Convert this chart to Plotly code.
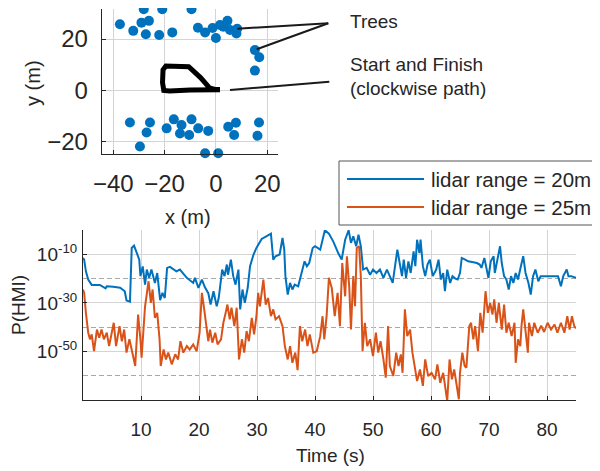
import plotly.graph_objects as go

# ---------------- data ----------------
tree_x = [-28.1, -20.9, -9.5, -37.4, -32.2, -29.0, -26.1, -27.3, -22.1, -17.0, -7.0, -4.2, -1.3, 0.0,
          1.6, 2.9, 4.5, 5.5, 8.3, 8.0, 15.2, 16.9, 15.2,
          -33.5, -25.7, -27.0, -29.6, -19.2, -16.4, -13.4, -14.0, -9.5, -10.4, -6.9, -3.0, -4.2, 0.9,
          4.8, 7.8, 7.1, 16.8, 16.2]
tree_y = [31.6, 31.6, 31.6, 25.8, 23.2, 26.4, 27.1, 21.9, 21.6, 22.6, 24.4, 22.6, 24.3, 20.4,
          25.5, 24.8, 27.1, 23.5, 24.0, 22.2, 15.7, 12.9, 7.7,
          -12.5, -12.5, -16.4, -21.9, -14.8, -11.3, -13.5, -16.8, -11.3, -17.4, -14.8, -15.8, -24.5, -24.5,
          -14.2, -12.6, -17.4, -12.5, -17.7]

path_x = [1.6, -2.0, -10.0, -18.0, -20.3, -20.8, -20.6, -19.5, -15.0, -10.6, -6.0, -2.5, 0.0, 1.5]
path_y = [0.2, 0.3, 0.1, -0.2, 0.0, 3.0, 8.0, 9.5, 9.4, 9.2, 5.0, 1.0, 0.3, 0.3]

# lidar range = 20 m : time (s) and log10 P(HMI)
t20 = [0.0, 0.2, 0.5, 0.9, 1.5, 2.9, 3.9, 4.1, 5.2, 6.4, 7.2, 7.5, 8.1, 8.4, 8.8, 9.3, 9.7, 9.9,
       10.3, 10.7, 11.0, 11.4, 11.8, 12.4, 12.8, 13.3, 13.7, 14.1, 14.5, 15.0, 16.1, 16.7, 17.9,
       19.0, 19.3, 19.9, 20.5, 21.0, 21.6, 22.0, 22.5, 23.05, 23.4, 24.0, 24.4, 24.8, 25.0, 25.5,
       25.9, 26.3, 26.8, 27.1, 27.5, 27.9, 28.4, 28.8, 29.4, 29.9, 30.8, 31.6, 32.4, 32.8, 33.2,
       33.9, 34.4, 34.7, 34.9, 35.3, 35.7, 36.1, 36.5, 37.1, 37.7, 38.2, 38.6, 39.0, 39.6, 40.0,
       40.9, 41.7, 42.4, 43.2, 44.0, 44.6, 45.2, 45.8, 46.2, 46.6, 47.1, 47.5, 47.9, 48.3, 48.9,
       49.5, 50.0, 50.6, 51.2, 51.8, 52.4, 52.9, 53.4, 53.8, 54.2, 54.6, 55.0, 55.3, 55.7, 56.1,
       56.5, 57.0, 57.3, 57.6, 58.0, 58.2, 58.6, 59.0, 59.4, 59.8, 60.3, 60.9, 61.3, 61.7, 62.1,
       62.4, 62.8, 63.3, 63.7, 64.2, 64.6, 65.0, 65.3, 65.9, 66.4, 67.3, 67.9, 68.4, 68.7, 69.2,
       69.6, 69.9, 70.3, 70.8, 71.0, 71.5, 71.9, 72.2, 72.6, 73.0, 73.4, 73.8, 74.2, 74.6, 75.0,
       75.5, 75.9, 76.3, 76.8, 77.2, 77.6, 78.0, 78.5, 78.9, 80.2, 81.9, 82.4, 82.8, 83.4, 83.7,
       84.2, 85.0]
log_p20 = [-11.5, -12.2, -17.0, -20.4, -22.6, -22.6, -24.0, -23.2, -23.4, -23.8, -25.2, -29.0, -29.5,
           -7.4, -6.4, -10.1, -12.2, -19.0, -15.0, -22.5, -16.3, -19.7, -16.3, -21.8, -17.7, -28.9,
           -25.9, -28.0, -15.6, -15.2, -17.0, -16.3, -19.7, -21.8, -19.7, -23.8, -20.4, -23.5, -26.0,
           -30.7, -25.2, -31.4, -28.0, -16.3, -19.0, -14.2, -18.4, -12.2, -19.0, -22.5, -16.3, -32.7,
           -24.5, -30.0, -23.8, -14.9, -10.1, -7.4, -3.7, -2.6, -1.5, -12.2, -10.8, -10.1, -3.3, -8.1,
           -19.0, -26.6, -21.8, -24.5, -22.5, -23.2, -17.7, -12.9, -14.9, -13.6, -7.4, -6.7, -8.1,
           -0.1, -1.5, -5.0, -9.5, -12.2, -4.0, -0.1, -5.3, -2.6, -6.7, -1.9, -6.7, -16.3, -15.6,
           -18.4, -16.3, -17.7, -16.3, -19.7, -16.3, -19.0, -21.8, -14.9, -8.1, -13.6, -19.0, -12.2,
           -19.7, -12.9, -17.7, -8.8, -14.9, -4.0, -9.5, -4.0, -14.9, -19.0, -14.2, -12.2, -19.0,
           -16.3, -12.2, -20.4, -17.7, -25.2, -16.3, -21.8, -19.0, -20.0, -20.4, -17.7, -11.5, -12.2,
           -12.9, -13.3, -13.6, -14.2, -15.6, -11.5, -16.3, -19.7, -12.9, -10.8, -17.7, -12.2, -6.7,
           -13.6, -19.0, -20.4, -24.5, -19.0, -21.8, -17.7, -20.4, -14.9, -10.8, -17.7, -21.8, -26.6,
           -19.0, -16.3, -21.1, -19.0, -19.0, -19.0, -23.2, -19.0, -16.3, -19.0, -19.0, -19.7]

# lidar range = 25 m : time (s) and log10 P(HMI)
t25 = [0.0, 0.2, 0.5, 0.9, 1.2, 1.5, 1.9, 2.4, 2.8, 3.2, 3.6, 4.1, 4.5, 4.9, 5.3, 5.7, 6.3, 6.7, 7.1,
       7.5, 8.0, 8.7, 9.0, 9.3, 9.5, 9.9, 10.1, 10.7, 11.3, 11.7, 12.0, 12.4, 12.8, 13.2, 13.4, 13.9,
       14.3, 14.7, 15.3, 15.9, 16.4, 16.8, 17.3, 17.9, 18.4, 19.0, 19.6, 20.1, 20.5, 20.9, 21.3,
       21.6, 21.9, 22.3, 22.8, 23.2, 23.8, 24.2, 24.6, 24.9, 25.3, 25.6, 26.1, 26.5, 26.9, 27.4,
       27.8, 28.2, 28.6, 29.1, 29.5, 29.9, 30.2, 30.5, 31.1, 31.5, 31.9, 32.4, 32.8, 33.2, 33.8,
       34.4, 34.8, 35.3, 35.7, 36.1, 36.6, 37.0, 37.4, 37.8, 38.3, 38.7, 39.1, 39.7, 40.3, 40.9,
       41.3, 41.6, 42.0, 42.4, 42.9, 43.4, 43.9, 44.3, 44.7, 45.2, 45.5, 45.9, 46.2, 46.6, 46.9,
       47.2, 47.6, 47.9, 48.2, 48.6, 49.0, 49.5, 50.0, 50.5, 50.9, 51.3, 51.8, 52.2, 52.6, 52.9,
       53.5, 54.0, 54.4, 54.8, 55.1, 55.5, 55.9, 56.4, 56.8, 57.2, 57.6, 58.1, 58.6, 59.0, 59.5,
       60.1, 60.7, 61.1, 61.6, 62.1, 62.5, 62.8, 63.2, 63.6, 64.0, 64.4, 64.8, 65.0, 65.4, 65.8,
       66.1, 66.6, 66.9, 67.3, 67.6, 68.1, 68.5, 68.9, 69.2, 69.4, 69.8, 70.2, 70.6, 70.9, 71.3,
       71.7, 72.2, 72.6, 73.0, 73.4, 73.9, 74.4, 74.6, 75.0, 75.4, 75.6, 75.9, 76.3, 76.7, 76.9,
       77.4, 77.8, 78.4, 79.0, 79.5, 80.1, 80.7, 81.3, 81.8, 82.4, 83.0, 83.5, 83.9, 84.3, 84.7,
       85.0]
log_p25 = [-24.5, -25.9, -34.1, -42.3, -45.0, -43.0, -49.9, -41.0, -44.4, -41.0, -45.0, -42.3, -47.8,
           -42.3, -38.2, -47.8, -39.6, -45.8, -41.0, -50.5, -45.0, -52.6, -56.0, -43.7, -34.8, -45.0,
           -52.6, -31.4, -21.1, -30.0, -24.5, -36.2, -34.1, -45.0, -56.0, -49.2, -53.3, -50.5, -55.3,
           -51.2, -53.3, -45.8, -50.5, -47.8, -49.2, -47.1, -49.9, -42.3, -25.9, -32.7, -41.0, -45.8,
           -41.0, -46.4, -42.3, -47.1, -45.0, -38.2, -34.1, -30.7, -36.8, -32.0, -39.6, -32.0, -53.3,
           -45.0, -50.5, -41.6, -45.8, -36.2, -43.0, -35.5, -25.9, -31.4, -20.4, -30.7, -28.0, -35.5,
           -32.7, -36.8, -35.5, -39.6, -47.8, -53.3, -47.8, -54.7, -50.5, -57.7, -39.6, -45.8, -41.0,
           -47.8, -43.0, -50.5, -49.9, -43.7, -35.5, -45.0, -35.5, -19.7, -24.0, -35.5, -25.9, -39.6,
           -13.6, -27.3, -10.8, -23.2, -41.0, -19.0, -31.4, -7.4, -6.7, -19.0, -49.9, -38.2, -47.8,
           -45.0, -51.9, -42.3, -50.5, -45.8, -53.3, -60.8, -39.6, -56.0, -60.1, -50.5, -56.0, -51.2,
           -58.8, -32.7, -43.7, -41.0, -50.5, -56.0, -62.2, -57.4, -64.2, -53.3, -60.1, -58.8, -61.5,
           -55.3, -62.9, -58.8, -65.6, -70.5, -53.3, -61.5, -57.4, -64.2, -69.7, -58.8, -50.5, -56.0,
           -56.7, -39.6, -38.2, -45.0, -39.6, -49.9, -34.1, -42.3, -31.4, -25.2, -34.1, -30.0, -34.8,
           -28.6, -38.2, -30.0, -41.0, -30.7, -42.3, -38.2, -43.7, -38.2, -54.7, -45.0, -47.8, -39.6,
           -32.7, -42.3, -50.5, -38.2, -43.7, -38.2, -42.3, -39.4, -42.0, -38.2, -41.0, -38.9, -42.3,
           -38.2, -42.3, -35.5, -41.0, -35.5, -39.6, -40.5]

x_ticks_map = [-40, -20, 0, 20]
y_ticks_map = [-20, 0, 20]
time_ticks = [10, 20, 30, 40, 50, 60, 70, 80]
p_tick_exps = [-50, -30, -10]
p_minor_exps = [-70, -60, -40, -20]
legend_labels = ["lidar range = 20m", "lidar range = 25m"]

# ---------------- styling ----------------
# the page body has an 8px margin, so the figure is 592x463 and offset by 8px
OFF = 8
W, H = 600 - OFF, 471 - OFF
BLUE = '#0072BD'
ORANGE = '#D95319'
AX = '#262626'
GRID = '#d4d4d4'
FONT = 'Liberation Sans, Arial, Helvetica, sans-serif'


def px(x):
    return (x - OFF) / W


def py(y):
    return 1 - (y - OFF) / H


fig = go.Figure()
fig.add_trace(go.Scatter(x=tree_x, y=tree_y, mode='markers', cliponaxis=False,
                         marker=dict(size=10, color=BLUE, line=dict(width=0)),
                         xaxis='x', yaxis='y', showlegend=False))
fig.add_trace(go.Scatter(x=path_x, y=path_y, mode='lines',
                         line=dict(color='black', width=5),
                         xaxis='x', yaxis='y', showlegend=False))
fig.add_trace(go.Scatter(x=t20, y=[10.0 ** v for v in log_p20], mode='lines',
                         line=dict(color=BLUE, width=2),
                         xaxis='x2', yaxis='y2', showlegend=False))
fig.add_trace(go.Scatter(x=t25, y=[10.0 ** v for v in log_p25], mode='lines',
                         line=dict(color=ORANGE, width=2),
                         xaxis='x2', yaxis='y2', showlegend=False))

common = dict(showline=True, linecolor=AX, linewidth=1, zeroline=False,
              showgrid=True, gridcolor=GRID, gridwidth=1, automargin=False,
              ticks='inside', ticklen=4, tickcolor=AX, mirror=False)

fig.update_layout(
    width=W, height=H,
    margin=dict(l=0, r=0, t=0, b=0),
    paper_bgcolor='white', plot_bgcolor='white',
    font=dict(family=FONT, color=AX),
    showlegend=False,
    xaxis=dict(domain=[px(101.7), px(278)], range=[-44.5, 24.2], anchor='y',
               tickmode='array', tickvals=x_ticks_map, tickfont=dict(size=24, color=AX),
               ticklabelstandoff=8, **common),
    yaxis=dict(domain=[py(154), py(9.3)], range=[-24.8, 31.6], anchor='x',
               tickmode='array', tickvals=y_ticks_map, tickfont=dict(size=24, color=AX),
               ticklabelstandoff=8, **common),
    xaxis2=dict(domain=[px(83), px(576)], range=[0, 85], anchor='y2',
                tickmode='array', tickvals=time_ticks, tickfont=dict(size=19, color=AX),
                ticklabelstandoff=12, **common),
    yaxis2=dict(domain=[py(400), py(230)], type='log', range=[-70, 0], anchor='x2',
                tickmode='array', tickvals=[10.0 ** e for e in p_tick_exps],
                ticktext=['10<sup>%d</sup>' % e for e in p_tick_exps],
                tickfont=dict(size=19, color=AX), ticklabelstandoff=1,
                minor=dict(tickmode='array', tickvals=[10.0 ** e for e in p_minor_exps],
                           showgrid=True, gridcolor='#a8a8a8', griddash='5px,3px',
                           gridwidth=1, ticks=''),
                **common),
)

ann = []


def text(x, y, s, size, xanchor='center', **kw):
    d = dict(x=px(x), y=py(y), xref='paper', yref='paper', text=s, showarrow=False,
             xanchor=xanchor, yanchor='middle',
             font=dict(size=size, color=AX, family=FONT))
    d.update(kw)
    ann.append(d)


text(188, 217, 'x (m)', 20)
text(33, 83, 'y (m)', 20, textangle=-90)
text(330, 455, 'Time (s)', 19)
text(18, 305, 'P(HMI)', 19, textangle=-90)
text(348, 22, 'Trees', 19, xanchor='left')
text(348, 65, 'Start and Finish', 19, xanchor='left')
text(348, 88, '(clockwise path)', 19, xanchor='left')
text(429, 179, legend_labels[0], 20.5, xanchor='left')
text(429, 207, legend_labels[1], 20.5, xanchor='left')

shapes = []


def seg(x0, y0, x1, y1, color='#1a1a1a', width=2):
    shapes.append(dict(type='line', xref='paper', yref='paper',
                       x0=px(x0), y0=py(y0), x1=px(x1), y1=py(y1),
                       line=dict(color=color, width=width)))


seg(237.3, 28.7, 328.3, 23.3)
seg(256.7, 49.3, 328.3, 23.3)
seg(230, 90, 329.3, 81.7)

shapes.append(dict(type='rect', xref='paper', yref='paper',
                   x0=px(339), x1=px(597), y0=py(225), y1=py(161),
                   line=dict(color='#555555', width=1), fillcolor='white', layer='above'))
seg(347, 179, 424, 179, color=BLUE, width=2)
seg(347, 207, 424, 207, color=ORANGE, width=2)

fig.update_layout(annotations=ann, shapes=shapes)

fig.write_html('out.html')
